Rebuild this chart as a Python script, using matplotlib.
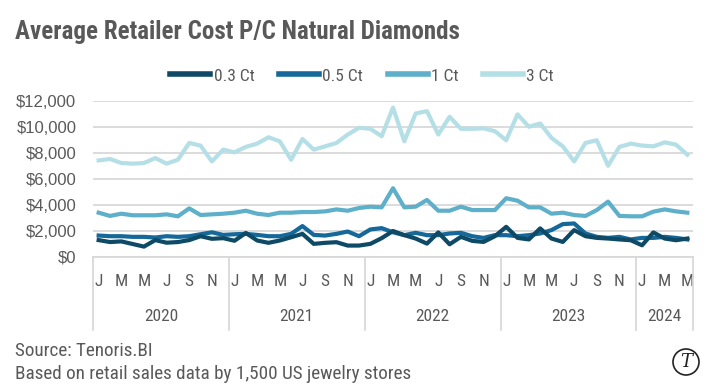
import numpy as np
import matplotlib
matplotlib.use("Agg")
import matplotlib.pyplot as plt
import matplotlib.transforms as mtransforms
from matplotlib.patches import Circle

plt.rcParams['font.family'] = ['Roboto Condensed', 'Roboto', 'DejaVu Sans']

# monthly data, Jan 2020 - May 2024
ct03 = [1300, 1150, 1200, 1000, 800, 1300, 1100, 1150, 1300, 1600, 1400, 1450,
        1250, 1850, 1270, 1090, 1270, 1520, 1780, 1010, 1090, 1140, 880, 880,
        1010, 1450, 2000, 1680, 1420, 1030, 1890, 980, 1550, 1240, 1160, 1600,
        2320, 1470, 1350, 2200, 1420, 1160, 2070, 1600, 1470, 1420, 1350, 1290,
        900, 1890, 1420, 1290, 1420]
ct05 = [1650, 1600, 1600, 1550, 1550, 1500, 1600, 1550, 1600, 1750, 1900, 1700,
        1750, 1780, 1700, 1600, 1600, 1780, 2380, 1700, 1650, 1780, 1960, 1600,
        2120, 2220, 1900, 1680, 1860, 1680, 1680, 1810, 1860, 1600, 1470, 1680,
        1680, 1600, 1680, 1810, 2070, 2530, 2580, 1810, 1550, 1470, 1550, 1350,
        1470, 1470, 1550, 1470, 1350]
ct1 = [3410, 3160, 3330, 3210, 3210, 3210, 3280, 3130, 3740, 3230, 3280, 3330,
       3410, 3560, 3330, 3230, 3410, 3410, 3460, 3460, 3510, 3660, 3560, 3770,
       3870, 3820, 5290, 3820, 3870, 4390, 3560, 3560, 3870, 3610, 3610, 3610,
       4520, 4330, 3820, 3820, 3330, 3410, 3230, 3160, 3610, 4260, 3160, 3130,
       3130, 3490, 3660, 3510, 3410]
ct3 = [7430, 7540, 7230, 7180, 7230, 7610, 7180, 7480, 8770, 8570, 7350, 8260,
       8050, 8470, 8720, 9210, 8900, 7480, 9080, 8260, 8510, 8770, 9420, 9940,
       9860, 9290, 11490, 8900, 11040, 11220, 9420, 10790, 9860, 9860, 9900, 9680,
       8980, 10970, 10020, 10270, 9160, 8510, 7350, 8770, 8980, 7020, 8470, 8720,
       8570, 8510, 8820, 8640, 7870]

series_names = ['0.3 Ct', '0.5 Ct', '1 Ct', '3 Ct']
colors = ['#0e4a66', '#15689a', '#5eafc9', '#b5dfe6']
years = ['2020', '2021', '2022', '2023', '2024']
month_letters = ['J', 'M', 'M', 'J', 'S', 'N']
yticks = [0, 2000, 4000, 6000, 8000, 10000, 12000]

grey = '#595959'
W, H = 713, 387
fig = plt.figure(figsize=(W / 100, H / 100), dpi=100)
ax = fig.add_axes([93 / W, 1 - 257 / H, 600 / W, 156 / H])

x = np.arange(len(ct3))
# lightest first so the dark ones sit on top
for data, c in zip([ct3, ct1, ct05, ct03], colors[::-1]):
    ax.plot(x, data, color=c, lw=3.0, zorder=3)

ax.set_xlim(-0.5, len(x) - 0.5)
ax.set_ylim(0, 12000)
ax.set_yticks(yticks)
ax.set_yticklabels(['${:,}'.format(v) for v in yticks], family=['Liberation Sans', 'DejaVu Sans'],
                   fontsize=12, color=grey)
ax.tick_params(axis='y', length=0, pad=12)
ax.grid(axis='y', color='#d9d9d9', lw=1.3, zorder=0)
for s in ['top', 'right', 'left']:
    ax.spines[s].set_visible(False)
ax.spines['bottom'].set_color('#d9d9d9')
ax.spines['bottom'].set_linewidth(1.3)

# month ticks every other month
mt = [i for i in x if i % 2 == 0]
ax.set_xticks(mt)
ax.set_xticklabels([month_letters[(i % 12) // 2] for i in mt], fontsize=12.5, color=grey)
ax.tick_params(axis='x', length=0, pad=12)

# year labels and separators
trans = mtransforms.blended_transform_factory(ax.transData, ax.transAxes)
bounds = [-0.5, 11.5, 23.5, 35.5, 47.5, len(x) - 0.5]
for b in bounds:
    ax.plot([b, b], [0, -0.47], transform=trans, color='#d9d9d9', lw=1.3, clip_on=False)
for k, yr in enumerate(years):
    ax.text((bounds[k] + bounds[k + 1]) / 2, -0.38, yr, transform=trans, ha='center',
            va='center', fontsize=12.5, color=grey)

# legend
handles = [plt.Line2D([], [], color=c, lw=4) for c in colors]
fig.legend(handles, series_names, loc='center', bbox_to_anchor=(0.508, 1 - 76 / H), ncol=4,
           frameon=False, fontsize=12.5, handlelength=2.3, handletextpad=0.2, columnspacing=1.4,
           labelcolor=grey)

fig.text(15 / W, 1 - 32 / H, 'Average Retailer Cost P/C Natural Diamonds', fontsize=18,
         fontweight='bold', color=grey, va='center', ha='left')
fig.text(15 / W, 1 - 351 / H, 'Source: Tenoris.BI', fontsize=13.8, color=grey, va='center')
fig.text(15 / W, 1 - 374 / H, 'Based on retail sales data by 1,500 US jewelry stores', fontsize=13.8,
         color=grey, va='center')

# small circled T logo
fig.patches.append(Circle((686, H - 362), 13, transform=None, fill=False, ec='#222222', lw=1.2))
fig.text(686 / W, 1 - 362 / H, 'T', fontsize=13, color='#222222', ha='center', va='center',
         family=['DejaVu Serif'], style='italic')

fig.savefig('out.png', dpi=100)
